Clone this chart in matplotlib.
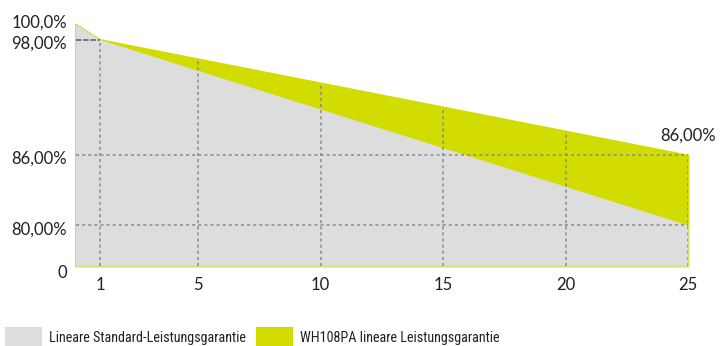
import numpy as np
import matplotlib
matplotlib.use("Agg")
import matplotlib.pyplot as plt
from matplotlib import font_manager, transforms
from matplotlib.patches import Rectangle

# data
years = [0, 1, 25]
standard = [100, 98, 80]      # Lineare Standard-Leistungsgarantie
wh108pa = [100, 98, 86]       # WH108PA lineare Leistungsgarantie
grid_years = [1, 5, 10, 15, 20, 25]
ytick_vals = [0, 80, 86, 98, 100]
ytick_labels = ["0", "80,00%", "86,00%", "98,00%", "100,0%"]
end_label = "86,00%"
legend_labels = ["Lineare Standard-Leistungsgarantie", "WH108PA lineare Leistungsgarantie"]

GRAY = "#dcdddd"
YELLOW = "#d2dc00"
TXT = "#231f20"
GRID = "#8a8a8a"

plt.rcParams["font.family"] = ["Lato", "DejaVu Sans"]

# a narrow face for the legend if one is around
names = {f.name for f in font_manager.fontManager.ttflist}
narrow = None
for cand in ["Liberation Sans Narrow", "DejaVu Sans Condensed", "Roboto Condensed",
             "Open Sans Condensed"]:
    if cand in names:
        narrow = cand
        break
if narrow is None:
    for f in font_manager.fontManager.ttflist:
        if f.stretch in ("condensed", "semi-condensed") and f.style == "normal":
            narrow = f.name
            break

# piecewise linear position of each value (axis is compressed below 80 %)
knot_vals = np.array([0, 80, 86, 98, 100], dtype=float)
knot_pos = np.array([0, 41, 111, 226.5, 242], dtype=float)


def fwd(v):
    return np.interp(v, knot_vals, knot_pos)


def inv(p):
    return np.interp(p, knot_pos, knot_vals)


W, H = 721, 346
fig = plt.figure(figsize=(W / 100, H / 100), dpi=100)
ax = fig.add_axes([75.5 / W, (H - 266) / H, (688 - 75.5) / W, (266 - 24) / H])
ax.set_yscale("function", functions=(fwd, inv))
ax.set_xlim(0, 25)
ax.set_ylim(0, 100)

ax.fill_between(years, 0, wh108pa, color=YELLOW, lw=1.2, edgecolor=YELLOW, clip_on=False, zorder=1)
ax.fill_between(years, 0, standard, color=GRAY, lw=0, zorder=2)

# dashed guides
for yr in grid_years:
    ax.plot([yr, yr], [0, np.interp(yr, years, wh108pa)], color=GRID, lw=1.1,
            dashes=(2, 2), zorder=3)
for v in [80, 86]:
    ax.plot([0, 25], [v, v], color=GRID, lw=1.1, dashes=(2, 2), zorder=3)
ax.plot([0, 1], [98, 98], color="#6e6e6e", lw=1.3, dashes=(3, 1), zorder=3)

ax.annotate(end_label, (years[-1], wh108pa[-1]), xytext=(0, 8), textcoords="offset points",
            ha="center", va="bottom", fontsize=12, color=TXT)

ax.set_xticks(grid_years)
ax.set_xticklabels([str(y) for y in grid_years])
ax.set_yticks(ytick_vals)
ax.set_yticklabels(ytick_labels)
ax.yaxis.set_minor_locator(matplotlib.ticker.NullLocator())
ax.tick_params(length=0, labelsize=12, colors=TXT)
ax.tick_params(axis="x", pad=8)
ax.tick_params(axis="y", pad=6)
for s in ax.spines.values():
    s.set_visible(False)

# nudge y labels like the original (100 up, the rest a bit down)
shifts = {"100,0%": 3, "98,00%": -3, "86,00%": -2, "80,00%": -3, "0": -6}
for lab in ax.get_yticklabels():
    dy = shifts.get(lab.get_text(), 0) / 100
    lab.set_transform(lab.get_transform() + transforms.ScaledTranslation(0, dy, fig.dpi_scale_trans))

# legend
leg_family = [narrow, "Lato", "DejaVu Sans"] if narrow else ["Lato", "DejaVu Sans"]
leg_size = 10.2 if narrow else 9.5
for i, (lab, col) in enumerate(zip(legend_labels, [GRAY, YELLOW])):
    x0 = [5, 256][i]
    fig.add_artist(Rectangle((x0 / W, 0), 37 / W, 19 / H, transform=fig.transFigure,
                             facecolor=col, edgecolor="none"))
    fig.text((x0 + 44) / W, 8 / H, lab, fontsize=leg_size, color=TXT, va="center",
             family=leg_family)

fig.savefig("out.png", dpi=100)
